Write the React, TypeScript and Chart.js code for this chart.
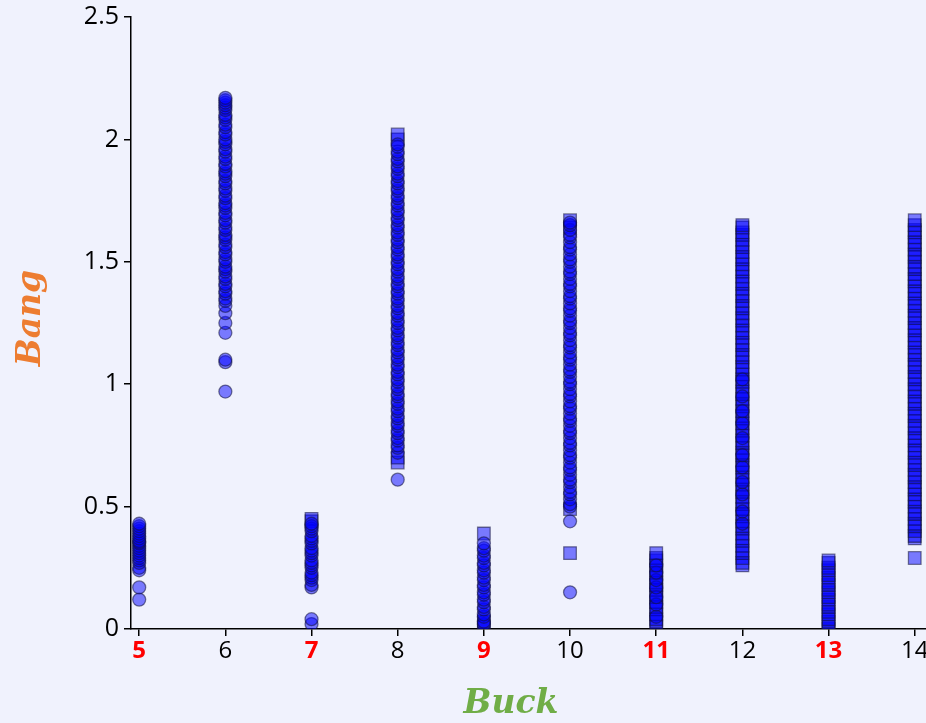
import React, { useEffect, useRef } from "react";
import { Chart, registerables } from "chart.js";

Chart.register(...registerables);

// ---- data ----
const xCategories = [5, 6, 7, 8, 9, 10, 11, 12, 13, 14];
const redLabels = [5, 7, 9, 11, 13];
const yTicks = [0, 0.5, 1, 1.5, 2, 2.5];
const xTitle = "Buck";
const yTitle = "Bang";

// circle markers per category
const circles5 = [0.12, 0.17, 0.24, 0.25, 0.27, 0.28, 0.29, 0.3, 0.31, 0.32, 0.33, 0.34, 0.35, 0.355, 0.36, 0.37, 0.38, 0.39, 0.4, 0.41, 0.42, 0.43];
const circles6 = [0.97, 1.09, 1.1, 1.21, 1.25, 1.29, 1.32, 1.34, 1.35, 1.37, 1.38, 1.4, 1.41, 1.43, 1.44, 1.46, 1.47, 1.48, 1.5, 1.51, 1.53, 1.54, 1.56, 1.57, 1.59, 1.6, 1.61, 1.63, 1.64, 1.66, 1.67, 1.69, 1.7, 1.72, 1.73, 1.74, 1.76, 1.77, 1.79, 1.8, 1.82, 1.83, 1.85, 1.86, 1.87, 1.89, 1.9, 1.92, 1.93, 1.95, 1.96, 1.98, 1.99, 2.0, 2.02, 2.03, 2.05, 2.06, 2.08, 2.09, 2.1, 2.12, 2.13, 2.14, 2.15, 2.16, 2.17];
const circles7 = [0.02, 0.04, 0.17, 0.18, 0.2, 0.21, 0.22, 0.23, 0.25, 0.26, 0.27, 0.28, 0.3, 0.31, 0.32, 0.33, 0.35, 0.36, 0.37, 0.38, 0.4, 0.41, 0.42, 0.43];
const circles8 = [0.61, 0.72, 0.74, 0.75, 0.77, 0.78, 0.8, 0.81, 0.83, 0.84, 0.86, 0.87, 0.89, 0.9, 0.92, 0.93, 0.95, 0.96, 0.98, 0.99, 1.01, 1.02, 1.04, 1.05, 1.07, 1.08, 1.1, 1.11, 1.13, 1.14, 1.16, 1.17, 1.19, 1.2, 1.22, 1.23, 1.25, 1.26, 1.28, 1.29, 1.31, 1.32, 1.34, 1.35, 1.37, 1.38, 1.4, 1.41, 1.43, 1.44, 1.46, 1.47, 1.49, 1.5, 1.52, 1.53, 1.55, 1.56, 1.58, 1.59, 1.61, 1.62, 1.64, 1.65, 1.67, 1.68, 1.7, 1.71, 1.73, 1.74, 1.76, 1.77, 1.79, 1.8, 1.82, 1.83, 1.85, 1.86, 1.88, 1.89, 1.91, 1.92, 1.94, 1.95, 1.97, 1.98];
const circles9 = [0.02, 0.03, 0.05, 0.06, 0.08, 0.09, 0.11, 0.12, 0.14, 0.15, 0.17, 0.18, 0.2, 0.21, 0.23, 0.24, 0.26, 0.27, 0.29, 0.3, 0.32, 0.33, 0.35];
const circles10 = [0.15, 0.44, 0.5, 0.51, 0.53, 0.55, 0.56, 0.58, 0.6, 0.61, 0.63, 0.65, 0.66, 0.68, 0.7, 0.71, 0.73, 0.75, 0.76, 0.78, 0.8, 0.81, 0.83, 0.85, 0.86, 0.88, 0.9, 0.91, 0.93, 0.95, 0.96, 0.98, 1.0, 1.01, 1.03, 1.05, 1.06, 1.08, 1.1, 1.11, 1.13, 1.15, 1.16, 1.18, 1.2, 1.21, 1.23, 1.25, 1.26, 1.28, 1.3, 1.31, 1.33, 1.35, 1.36, 1.38, 1.4, 1.41, 1.43, 1.45, 1.46, 1.48, 1.5, 1.51, 1.53, 1.55, 1.56, 1.58, 1.6, 1.61, 1.63, 1.65, 1.66];
const circles11 = [0.05, 0.1, 0.13, 0.17, 0.2, 0.23, 0.26];
const circles12 = [0.43, 0.48, 0.55, 0.6, 0.66, 0.71, 0.78, 0.84, 0.89, 0.95, 1.02];
const circles13: number[] = [];
const circles14: number[] = [];

// square markers per category
const squares5: number[] = [];
const squares6: number[] = [];
const squares7 = [0.44, 0.45];
const squares8 = [0.68, 0.7, 2.0, 2.02];
const squares9 = [0.39, 0.01, 0.03];
const squares10 = [0.31, 0.49, 1.64, 1.67];
const squares11 = [0.01, 0.03, 0.04, 0.06, 0.08, 0.09, 0.11, 0.13, 0.14, 0.16, 0.18, 0.19, 0.21, 0.23, 0.24, 0.26, 0.28, 0.29, 0.31];
const squares12 = [0.26, 0.27, 0.29, 0.31, 0.32, 0.34, 0.36, 0.37, 0.39, 0.41, 0.42, 0.44, 0.46, 0.47, 0.49, 0.51, 0.52, 0.54, 0.56, 0.57, 0.59, 0.61, 0.62, 0.64, 0.66, 0.67, 0.69, 0.71, 0.72, 0.74, 0.76, 0.77, 0.79, 0.81, 0.82, 0.84, 0.86, 0.87, 0.89, 0.91, 0.92, 0.94, 0.96, 0.97, 0.99, 1.01, 1.02, 1.04, 1.06, 1.07, 1.09, 1.11, 1.12, 1.14, 1.16, 1.17, 1.19, 1.21, 1.22, 1.24, 1.26, 1.27, 1.29, 1.31, 1.32, 1.34, 1.36, 1.37, 1.39, 1.41, 1.42, 1.44, 1.46, 1.47, 1.49, 1.51, 1.52, 1.54, 1.56, 1.57, 1.59, 1.61, 1.62, 1.64, 1.65];
const squares13 = [0.0, 0.01, 0.03, 0.04, 0.06, 0.07, 0.09, 0.1, 0.12, 0.13, 0.15, 0.16, 0.18, 0.19, 0.21, 0.22, 0.24, 0.25, 0.27, 0.28];
const squares14 = [0.29, 0.37, 0.38, 0.4, 0.42, 0.43, 0.45, 0.47, 0.48, 0.5, 0.52, 0.53, 0.55, 0.57, 0.58, 0.6, 0.62, 0.63, 0.65, 0.67, 0.68, 0.7, 0.72, 0.73, 0.75, 0.77, 0.78, 0.8, 0.82, 0.83, 0.85, 0.87, 0.88, 0.9, 0.92, 0.93, 0.95, 0.97, 0.98, 1.0, 1.02, 1.03, 1.05, 1.07, 1.08, 1.1, 1.12, 1.13, 1.15, 1.17, 1.18, 1.2, 1.22, 1.23, 1.25, 1.27, 1.28, 1.3, 1.32, 1.33, 1.35, 1.37, 1.38, 1.4, 1.42, 1.43, 1.45, 1.47, 1.48, 1.5, 1.52, 1.53, 1.55, 1.57, 1.58, 1.6, 1.62, 1.63, 1.65, 1.67];

const circleColumns = [circles5, circles6, circles7, circles8, circles9, circles10, circles11, circles12, circles13, circles14];
const squareColumns = [squares5, squares6, squares7, squares8, squares9, squares10, squares11, squares12, squares13, squares14];

const toPoints = (cols: number[][]) =>
  cols.flatMap((vals, i) => vals.map((y) => ({ x: xCategories[i], y })));

const BG = "#f0f2fd";
const TICK_FONT = '"Open Sans"';
const TITLE_FONT = 'italic bold 33px "DejaVu Serif"';

const bgPlugin = {
  id: "bg",
  beforeDraw(chart: any) {
    const { ctx, width, height } = chart;
    ctx.save();
    ctx.fillStyle = BG;
    ctx.fillRect(0, 0, width, height);
    ctx.restore();
  },
};

const titlePlugin = {
  id: "axisTitles",
  afterDraw(chart: any) {
    const { ctx } = chart;
    ctx.save();
    ctx.font = TITLE_FONT;
    ctx.textAlign = "center";
    ctx.textBaseline = "middle";
    ctx.fillStyle = "#70ad47";
    ctx.fillText(xTitle, 511, 704);
    ctx.translate(31, 318);
    ctx.rotate(-Math.PI / 2);
    ctx.fillStyle = "#ed7d31";
    ctx.fillText(yTitle, 0, 0);
    ctx.restore();
  },
};

export default function App() {
  const ref = useRef<HTMLCanvasElement | null>(null);

  useEffect(() => {
    document.body.style.margin = "0";
    document.body.style.background = BG;
    const canvas = ref.current!;
    const common = {
      backgroundColor: "rgba(0,0,255,0.5)",
      borderColor: "rgba(20,20,60,0.55)",
      borderWidth: 1.3,
      showLine: false,
    };
    const chart = new Chart(canvas, {
      type: "scatter",
      data: {
        datasets: [
          { ...common, label: "circle", data: toPoints(circleColumns), pointStyle: "circle", pointRadius: 6.5 },
          { ...common, label: "square", data: toPoints(squareColumns), pointStyle: "rect", pointRadius: 8.9 },
        ],
      },
      options: {
        responsive: false,
        animation: false,
        layout: { padding: { top: 17, right: 0, bottom: 0, left: 0 } },
        plugins: { legend: { display: false }, tooltip: { enabled: false } },
        scales: {
          x: {
            type: "linear",
            min: 4.905,
            max: 14.14,
            afterBuildTicks: (s: any) => {
              s.ticks = xCategories.map((v) => ({ value: v }));
            },
            afterFit: (s: any) => {
              s.height = 94;
              s.paddingLeft = 0;
              s.paddingRight = 0;
            },
            border: { display: true, color: "#000", width: 1.5 },
            grid: { drawOnChartArea: false, drawTicks: true, tickLength: 7, color: "#000", lineWidth: 1.5 },
            ticks: {
              autoSkip: false,
              maxRotation: 0,
              padding: 1,
              color: (c: any) => (redLabels.includes(c.tick?.value) ? "#ff0000" : "#000"),
              font: (c: any) =>
                redLabels.includes(c.tick?.value)
                  ? { family: TICK_FONT, size: 24, weight: "bold" }
                  : { family: TICK_FONT, size: 24, weight: "normal" },
              callback: (v: any) => String(v),
            },
          },
          y: {
            type: "linear",
            min: 0,
            max: 2.5,
            afterBuildTicks: (s: any) => {
              s.ticks = yTicks.map((v) => ({ value: v }));
            },
            afterFit: (s: any) => {
              s.width = 131;
              s.paddingTop = 0;
              s.paddingBottom = 0;
            },
            border: { display: true, color: "#000", width: 1.5 },
            grid: { drawOnChartArea: false, drawTicks: true, tickLength: 7, color: "#000", lineWidth: 1.5 },
            ticks: {
              padding: 5,
              color: "#000",
              font: { family: TICK_FONT, size: 25 },
              callback: (v: any) => String(v),
            },
          },
        },
      },
      plugins: [bgPlugin, titlePlugin],
    });
    return () => chart.destroy();
  }, []);

  return (
    <div style={{ position: "absolute", left: 0, top: 0, width: 926, height: 723, overflow: "hidden", background: BG }}>
      <canvas ref={ref} width={937} height={723} style={{ display: "block" }} />
    </div>
  );
}
